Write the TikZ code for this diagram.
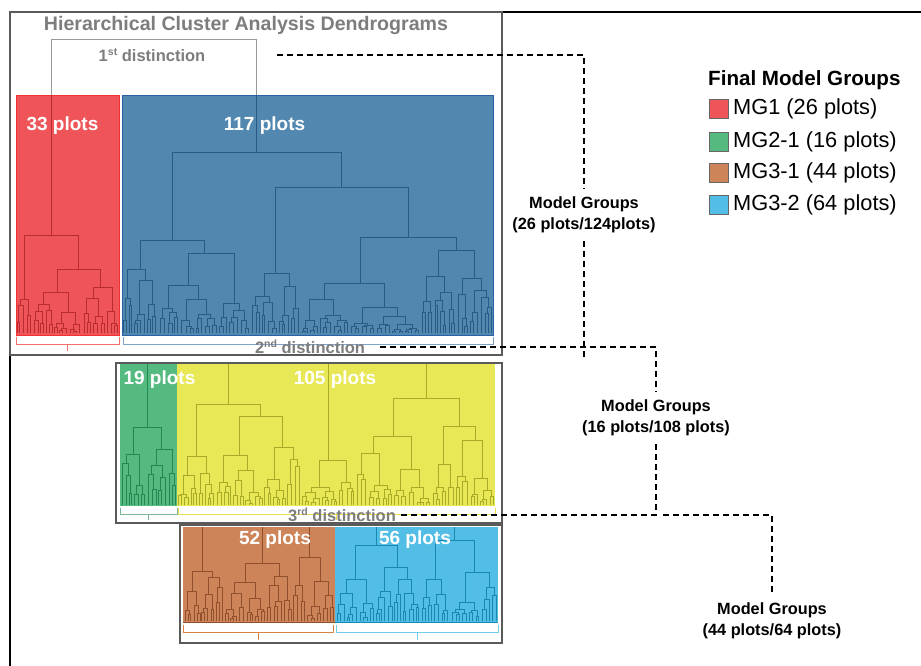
\documentclass[tikz,border=0pt]{standalone}
\usepackage{fontspec}
\setmainfont{Liberation Sans}
\definecolor{redfill}{RGB}{238,84,88}
\definecolor{redline}{RGB}{185,45,50}
\definecolor{redbord}{RGB}{240,50,50}
\definecolor{bluefill}{RGB}{82,136,176}
\definecolor{blueline}{RGB}{40,92,135}
\definecolor{bluebord}{RGB}{40,100,165}
\definecolor{greenfill}{RGB}{84,186,128}
\definecolor{greenline}{RGB}{35,135,80}
\definecolor{yellowfill}{RGB}{232,232,86}
\definecolor{yellowline}{RGB}{170,170,40}
\definecolor{brownfill}{RGB}{205,132,88}
\definecolor{brownline}{RGB}{145,80,45}
\definecolor{ltbluefill}{RGB}{82,190,230}
\definecolor{ltblueline}{RGB}{25,135,180}
\definecolor{txtgray}{RGB}{125,125,125}
\definecolor{panelgray}{RGB}{90,90,90}

\newcommand\dtpitch{3}
\newcommand\dtbase{333}
\newcommand\dtfill[3]{%
 \begingroup
 \pgfmathsetmacro\dta{#1}%
 \pgfmathsetmacro\dtb{#2}%
 \pgfmathsetmacro\dth{#3}%
 \pgfmathsetmacro\dtw{\dtb-\dta}%
 \pgfmathtruncatemacro\dtleafq{(\dtw<1.6*\dtpitch)?1:0}%
 \ifnum\dtleafq=0
   \pgfmathsetmacro\dts{\dta+\dtw*(0.3+0.4*rnd)}%
   \pgfmathsetmacro\dtl{(\dta+\dts)/2}%
   \pgfmathsetmacro\dtr{(\dts+\dtb)/2}%
   \pgfmathsetmacro\dtfa{0.35+0.5*rnd}%
   \pgfmathsetmacro\dtfb{0.35+0.5*rnd}%
   \pgfmathsetmacro\dthl{((\dts-\dta)<1.6*\dtpitch)?\dtbase:(\dtbase-(\dtbase-\dth)*\dtfa)}%
   \pgfmathsetmacro\dthr{((\dtb-\dts)<1.6*\dtpitch)?\dtbase:(\dtbase-(\dtbase-\dth)*\dtfb)}%
   \draw[dline] (\dtl,\dthl) -- (\dtl,\dth) -- (\dtr,\dth) -- (\dtr,\dthr);
   \dtfill{\dta}{\dts}{\dthl}%
   \dtfill{\dts}{\dtb}{\dthr}%
 \fi
 \endgroup}
\newcommand\brkt[6]{% x1 x2 ytop ymid ybot color
 \draw[#6,line width=0.8pt] (#1,#3) -- (#1,#4) -- (#2,#4) -- (#2,#3);
 \pgfmathsetmacro\brc{(#1+#2)/2}%
 \draw[#6,line width=0.8pt] (\brc,#4) -- (\brc,#5);}
\newcommand\supx[1]{\raisebox{0.38em}{\fontsize{10.5}{11}\selectfont #1}}

\begin{document}
\begin{tikzpicture}[x=1pt,y=-1pt,
  dline/.style={line width=0.6pt},
  panel/.style={draw=panelgray,line width=1.1pt},
  dashline/.style={black,line width=1.5pt,dash pattern=on 6pt off 4pt},
  plotlbl/.style={text=white,font=\fontsize{19}{22}\selectfont\bfseries,inner sep=0pt},
  dist/.style={text=txtgray,font=\fontsize{16.5}{19}\selectfont\bfseries,inner sep=0pt},
  mg/.style={font=\fontsize{16.3}{21}\selectfont\bfseries,align=center,inner sep=0pt,outer sep=8pt},
  legsq/.style={draw=black!60,line width=0.5pt,minimum size=19pt,inner sep=0pt},
  legtxt/.style={font=\fontsize{21.8}{24}\selectfont,anchor=west,inner sep=0pt}]
\useasboundingbox (0,0) rectangle (921,666);
\fill[white] (0,0) rectangle (921,666);

% outer frame and panels
\draw[black,line width=2.2pt] (10,666) -- (10,12) -- (921,12);
\draw[panel] (10,12) rectangle (502,355);
\draw[panel] (116,363) rectangle (502,523);
\draw[panel] (180,525) rectangle (502,643);

% ---------- panel 1 ----------
\fill[redfill] (16,95) rectangle (119,335);
\fill[bluefill] (122,95) rectangle (493,335);
\draw[redbord,line width=0.9pt] (16,95) rectangle (119,335);
\draw[bluebord,line width=0.9pt] (122,95) rectangle (493,335);
\draw[black!40,line width=0.8pt] (51.4,95) -- (51.4,39) -- (256.75,39) -- (256.75,95);

\begin{scope}[draw=redline]
\renewcommand\dtbase{333}\renewcommand\dtpitch{3.1}
\pgfmathsetseed{11}
\draw[dline] (51.4,95) -- (51.4,235);
\draw[dline] (24,299) -- (24,235) -- (78.75,235) -- (78.75,269);
\draw[dline] (57,292) -- (57,269) -- (100.5,269) -- (100.5,287);
\dtfill{16}{32}{299}
\dtfill{32}{82}{292}
\dtfill{82}{119}{287}
\end{scope}

\begin{scope}[draw=blueline]
\renewcommand\dtbase{333}\renewcommand\dtpitch{3.17}
\pgfmathsetseed{23}
\draw[dline] (256.75,95) -- (256.75,152);
\draw[dline] (172,240) -- (172,152) -- (341.5,152) -- (341.5,187);
\draw[dline] (140,269) -- (140,240) -- (204,240) -- (204,253);
\draw[dline] (275,273) -- (275,187) -- (408,187) -- (408,237);
\draw[dline] (360,283) -- (360,237) -- (456,237) -- (456,250);
\dtfill{122}{158}{269}
\dtfill{158}{250}{253}
\dtfill{250}{300}{273}
\dtfill{300}{420}{283}
\dtfill{420}{493}{250}
\end{scope}

\brkt{16}{119}{337}{344}{351}{redbord!70}
\brkt{123}{493}{337}{344}{351}{bluebord!60}

% ---------- panel 2 ----------
\fill[greenfill] (120,364) rectangle (177,506);
\fill[yellowfill] (177,364) rectangle (495,506);
\begin{scope}[draw=greenline]
\renewcommand\dtbase{505}\renewcommand\dtpitch{3}
\pgfmathsetseed{5}
\draw[dline] (147.25,364) -- (147.25,427);
\draw[dline] (133,454) -- (133,427) -- (161.5,427) -- (161.5,449);
\dtfill{120}{146}{454}
\dtfill{146}{177}{449}
\end{scope}
\begin{scope}[draw=yellowline]
\renewcommand\dtbase{505}\renewcommand\dtpitch{3.04}
\pgfmathsetseed{77}
\draw[dline] (228.25,364) -- (228.25,404);
\draw[dline] (196,456) -- (196,404) -- (260.5,404) -- (260.5,416);
\draw[dline] (239,455) -- (239,416) -- (282,416) -- (282,447);
\draw[dline] (328,364) -- (328,460);
\draw[dline] (426,364) -- (426,398);
\draw[dline] (393,436) -- (393,398) -- (459,398) -- (459,426);
\draw[dline] (443,464) -- (443,426) -- (475.5,426) -- (475.5,440);
\dtfill{177}{215}{456}
\dtfill{215}{263}{455}
\dtfill{263}{301}{447}
\dtfill{301}{355}{460}
\dtfill{355}{431}{436}
\dtfill{431}{455}{464}
\dtfill{455}{495}{440}
\end{scope}
\brkt{120}{177}{508}{514}{520}{greenline!60}
\brkt{178}{495}{508}{514}{520}{yellowfill!90!orange}

% ---------- panel 3 ----------
\fill[brownfill] (183,527) rectangle (335,623);
\fill[ltbluefill] (335,527) rectangle (498,623);
\begin{scope}[draw=brownline]
\renewcommand\dtbase{621}\renewcommand\dtpitch{2.92}
\pgfmathsetseed{31}
\draw[dline] (202.25,527) -- (202.25,571);
\draw[dline] (192,591) -- (192,571) -- (212.5,571) -- (212.5,577);
\draw[dline] (262,527) -- (262,563);
\draw[dline] (245,582) -- (245,563) -- (279,563) -- (279,576);
\draw[dline] (309.75,527) -- (309.75,557);
\draw[dline] (299,585) -- (299,557) -- (320.5,557) -- (320.5,581);
\dtfill{183}{201}{591}
\dtfill{201}{224}{577}
\dtfill{224}{266}{582}
\dtfill{266}{292}{576}
\dtfill{292}{306}{585}
\dtfill{306}{335}{581}
\end{scope}
\begin{scope}[draw=ltblueline]
\renewcommand\dtbase{621}\renewcommand\dtpitch{2.9}
\pgfmathsetseed{47}
\draw[dline] (376,527) -- (376,545);
\draw[dline] (355,579) -- (355,545) -- (397.5,545) -- (397.5,567);
\draw[dline] (454.5,527) -- (454.5,540);
\draw[dline] (435,579) -- (435,540) -- (474,540) -- (474,572);
\dtfill{335}{375}{579}
\dtfill{375}{420}{567}
\dtfill{420}{450}{579}
\dtfill{450}{498}{572}
\end{scope}
\draw[brownline,line width=1pt] (183,622) -- (335,622);
\draw[ltblueline,line width=1pt] (335,622) -- (498,622);
\brkt{183}{333}{625}{632}{640}{brownfill!80!orange}
\brkt{336}{498}{625}{632}{640}{ltbluefill!80}

% ---------- texts ----------
\node[text=txtgray,font=\fontsize{19.6}{22}\selectfont\bfseries,inner sep=0pt] (title) at (246,25) {Hierarchical Cluster Analysis Dendrograms};
\node[dist] (d1) at (152,55) {1\supx{st} distinction};
\node[dist] (d2) at (310,347) {2\supx{nd} distinction};
\node[dist] (d3) at (342,515) {3\supx{rd} distinction};

\node[plotlbl] (p33) at (62.5,126) {33 plots};
\node[plotlbl] (p117) at (264.5,126) {117 plots};
\node[plotlbl] (p19) at (159.5,380) {19 plots};
\node[plotlbl] (p105) at (335,380) {105 plots};
\node[plotlbl] (p52) at (275,540) {52 plots};
\node[plotlbl] (p56) at (415,540) {56 plots};

\node[mg] (mg1) at (584,215) {Model Groups\\(26 plots/124plots)};
\node[mg] (mg2) at (656,418) {Model Groups\\(16 plots/108 plots)};
\node[mg] (mg3) at (772,621) {Model Groups\\(44 plots/64 plots)};

\coordinate (c1) at (277,55);
\coordinate (c1e) at (584,357);
\coordinate (c2) at (380,347);
\coordinate (c3) at (400,515);
\coordinate (c4) at (663,515);
\draw[dashline] (c1) -| (mg1.north);
\draw[dashline] (mg1.south) -- (c1e);
\draw[dashline] (c2) -| (mg2.north);
\draw[dashline] (mg2.south) |- (c3);
\draw[dashline] (c4) -| (mg3.north);

% ---------- legend ----------
\node[font=\fontsize{20.6}{24}\selectfont\bfseries,anchor=west,inner sep=0pt] (legt) at (708,80) {Final Model Groups};
\node[legsq,fill=redfill] (s1) at (718.5,108.5) {};
\node[legsq,fill=greenfill] (s2) at (718.5,142) {};
\node[legsq,fill=brownfill] (s3) at (718.5,172.5) {};
\node[legsq,fill=ltbluefill] (s4) at (718.5,205) {};
\node[legtxt] (l1) at (733,108.5) {MG1 (26 plots)};
\node[legtxt] (l2) at (733,142) {MG2-1 (16 plots)};
\node[legtxt] (l3) at (733,172.5) {MG3-1 (44 plots)};
\node[legtxt] (l4) at (733,205) {MG3-2 (64 plots)};
\end{tikzpicture}
\end{document}
